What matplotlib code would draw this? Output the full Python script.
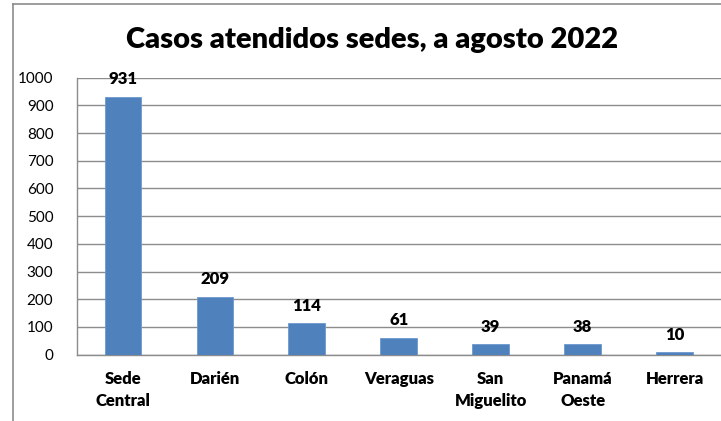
import matplotlib
matplotlib.use("Agg")
import matplotlib.pyplot as plt
from matplotlib.lines import Line2D

categories = ["Sede\nCentral", "Darién", "Colón", "Veraguas", "San\nMiguelito", "Panamá\nOeste", "Herrera"]
values = [931, 209, 114, 61, 39, 38, 10]
yticks = [0, 100, 200, 300, 400, 500, 600, 700, 800, 900, 1000]
title = "Casos atendidos sedes, a agosto 2022"

plt.rcParams['font.family'] = ['Lato', 'DejaVu Sans']

W, H = 721, 421
fig = plt.figure(figsize=(W / 100, H / 100), dpi=100)
ax = fig.add_axes([77 / W, (H - 354.7) / H, (720.5 - 77) / W, (354.7 - 77.7) / H])

x = list(range(len(categories)))
bars = ax.bar(x, values, width=0.4, color="#4F81BD", edgecolor="#6E98CF", linewidth=0.6, zorder=3)

ax.set_xlim(-0.5, len(categories) - 0.5)
ax.set_ylim(0, 1000)
ax.set_yticks(yticks)
ax.set_yticklabels([str(v) for v in yticks], fontsize=11)
ax.set_xticks(x)
ax.set_xticklabels(categories, fontsize=12, fontweight="heavy", linespacing=1.45)
ax.tick_params(axis="y", length=0, pad=17)
ax.tick_params(axis="x", length=0, pad=12)

ax.grid(axis="y", color="#8C8C8C", linewidth=1.0, zorder=0)
for s in ["top", "right"]:
    ax.spines[s].set_visible(False)
ax.spines["left"].set_color("#8C8C8C")
ax.spines["bottom"].set_color("#8C8C8C")
ax.spines["left"].set_linewidth(1.0)
ax.spines["bottom"].set_linewidth(1.0)

for xi, v in zip(x, values):
    ax.annotate(str(v), (xi, v), xytext=(0, 12.5), textcoords="offset points",
                ha="center", va="center", fontsize=12, fontweight="heavy", color="#000000")

fig.text(372 / W, 1 - 40 / H, title, ha="center", va="center", fontsize=21, fontweight="heavy")

# outer chart border (left and top visible)
fig.add_artist(Line2D([12.5 / W, 12.5 / W], [0, 1 - 3.5 / H], color="#8C8C8C", linewidth=1.2, transform=fig.transFigure))
fig.add_artist(Line2D([12.5 / W, 1], [1 - 3.5 / H, 1 - 3.5 / H], color="#8C8C8C", linewidth=1.2, transform=fig.transFigure))

fig.savefig("out.png", dpi=100)
